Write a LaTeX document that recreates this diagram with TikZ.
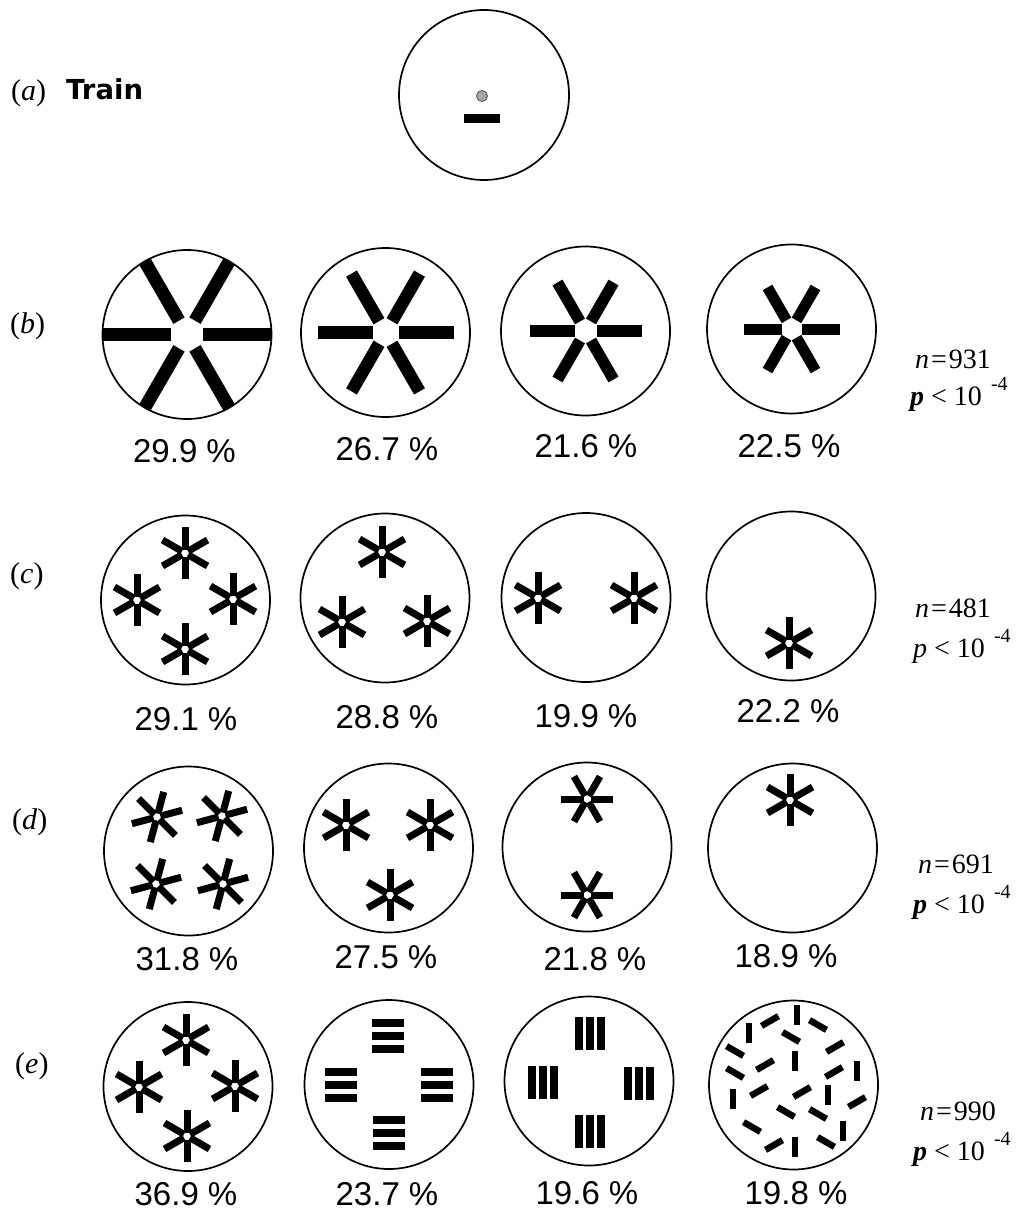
\documentclass[tikz,border=0pt]{standalone}
\usepackage{fontspec}
\setmainfont{Liberation Serif}
\newfontfamily\pctfont{Liberation Sans}
\newfontfamily\trainfont{DejaVu Sans}
\newcommand{\mystar}[6]{\foreach \ang in {0,60,...,300}{\draw[line width=#5pt,shift={(#1,-#2)},rotate=#6] (\ang:#3) -- (\ang:#4);}}
\newcommand{\sst}[3]{\mystar{#1}{#2}{3.5}{26}{7}{#3}}
\newcommand{\hbars}[2]{\foreach \d in {-13,0,13}{\draw[line width=8pt,shift={(#1,-#2)}] (-16,\d) -- (16,\d);}}
\newcommand{\vbars}[2]{\foreach \d in {-11,0,11}{\draw[line width=8pt,shift={(#1,-#2)}] (\d,-16.5) -- (\d,16.5);}}
\newcommand{\expfour}{\kern9pt\raisebox{15pt}{\fontsize{20}{20}\selectfont -4}}
\begin{document}
\begin{tikzpicture}[x=1pt,y=1pt,
  dish/.style={line width=1.7pt},
  pct/.style={font=\pctfont\fontsize{33}{36}\selectfont, anchor=base, inner sep=0pt},
  rowlab/.style={font=\fontsize{30}{32}\selectfont, anchor=base west, inner sep=0pt},
  stat/.style={font=\fontsize{28}{30}\selectfont, anchor=base west, inner sep=0pt}]
\fill[white] (0,0) rectangle (1025,-1212);
\useasboundingbox (0,0) rectangle (1025,-1212);
% (a)
\node[rowlab] (la) at (11,-101) {(\textit{a})};
\node[anchor=base west, inner sep=0pt, font=\trainfont\bfseries\fontsize{27.5}{30}\selectfont] (train) at (66,-100) {Train};
\coordinate (A) at (484,-95);
\draw[dish] (A) circle[radius=85];
\fill[gray!70, draw=black!70, line width=0.8pt] (482,-96) circle[radius=5.5];
\fill (464,-114) rectangle (500,-123);
% row labels
\node[rowlab] (lb) at (10,-333) {(\textit{b})};
\node[rowlab] (lc) at (10,-583) {(\textit{c})};
\node[rowlab] (ld) at (12,-829) {(\textit{d})};
\node[rowlab] (le) at (15,-1073) {(\textit{e})};
% row b
\coordinate (B1) at (187,-334.5);
\coordinate (B2) at (385.5,-332.5);
\coordinate (B3) at (585.5,-331);
\coordinate (B4) at (791.5,-329);
\foreach \c in {B1,B2,B3,B4} \draw[dish] (\c) circle[radius=84.5];
\mystar{187}{334.5}{16}{84}{13}{0}
\mystar{385.5}{332.5}{13}{68}{12.5}{0}
\mystar{585.5}{331}{11}{56}{11.5}{0}
\mystar{791.5}{329}{10}{48}{11}{0}
\node[pct] (pb1) at (184.5,-462) {29.9 \%};
\node[pct] (pb2) at (387,-460) {26.7 \%};
\node[pct] (pb3) at (586,-457) {21.6 \%};
\node[pct] (pb4) at (789,-457) {22.5 \%};
\node[stat] (nb) at (915,-368) {\textit{n}\kern2pt=\kern2pt931};
\node[stat] (sb) at (910,-405) {\textbf{\textit{p}} < 10\expfour};
% row c
\coordinate (C1) at (185.5,-600);
\coordinate (C2) at (385,-598);
\coordinate (C3) at (586,-597.5);
\coordinate (C4) at (791,-596);
\foreach \c in {C1,C2,C3,C4} \draw[dish] (\c) circle[radius=84.5];
\sst{185}{553}{30}\sst{137}{600}{30}\sst{233}{599}{30}\sst{185}{649}{30}
\sst{382}{552}{30}\sst{342}{622}{30}\sst{427}{621}{30}
\sst{538}{598}{30}\sst{634}{598}{30}
\sst{789}{643}{30}
\node[pct] (pc1) at (186,-730) {29.1 \%};
\node[pct] (pc2) at (387,-728) {28.8 \%};
\node[pct] (pc3) at (586,-727) {19.9 \%};
\node[pct] (pc4) at (788,-722) {22.2 \%};
\node[stat] (nc) at (915,-617) {\textit{n}\kern2pt=\kern2pt481};
\node[stat] (sc) at (913,-657) {\textit{p} < 10\expfour};
% row d
\coordinate (D1) at (188.5,-851);
\coordinate (D2) at (388.5,-848);
\coordinate (D3) at (587,-847);
\coordinate (D4) at (792.5,-848);
\foreach \c in {D1,D2,D3,D4} \draw[dish] (\c) circle[radius=84.5];
\sst{157}{817}{15}\sst{222}{816}{15}\sst{156}{884}{15}\sst{223}{884}{15}
\sst{346}{825}{30}\sst{430}{825}{30}\sst{390}{895}{30}
\sst{587}{799}{0}\sst{587}{895}{0}
\sst{790}{800}{30}
\node[pct] (pd1) at (187,-970) {31.8 \%};
\node[pct] (pd2) at (386,-968) {27.5 \%};
\node[pct] (pd3) at (595,-970) {21.8 \%};
\node[pct] (pd4) at (786,-967) {18.9 \%};
\node[stat] (nd) at (918,-873) {\textit{n}\kern2pt=\kern2pt691};
\node[stat] (sd) at (913,-913) {\textbf{\textit{p}} < 10\expfour};
% row e
\coordinate (E1) at (188,-1086.5);
\coordinate (E2) at (389,-1084.5);
\coordinate (E3) at (589,-1081);
\coordinate (E4) at (793.5,-1085);
\foreach \c in {E1,E2,E3,E4} \draw[dish] (\c) circle[radius=84.5];
\sst{186}{1040}{30}\sst{139}{1087}{30}\sst{235}{1086}{30}\sst{187}{1136}{30}
\hbars{388}{1036}\hbars{341}{1085}\hbars{437}{1085}\hbars{389}{1133}
\vbars{590}{1033}\vbars{543}{1082}\vbars{639}{1083}\vbars{590}{1131}
\foreach \x/\y/\a in {749/1033/90, 770/1021/30, 797/1015/90, 818/1025/-30, 791/1037/-30, 735/1051/-30, 835/1047/30, 795/1061/90, 765/1065/30, 735/1073/-30, 834/1072/30, 857/1071/90, 733/1099/90, 759/1091/30, 802/1092/30, 828/1095/90, 857/1102/30, 786/1112/-30, 818/1114/-30, 752/1127/-30, 843/1131/90, 774/1145/30, 795/1147/90, 826/1142/-30}
  \draw[line width=6.5pt,shift={(\x,-\y)},rotate=\a] (-9.75,0) -- (9.75,0);
\node[pct] (pe1) at (186,-1205) {36.9 \%};
\node[pct] (pe2) at (387,-1205) {23.7 \%};
\node[pct] (pe3) at (587,-1204) {19.6 \%};
\node[pct] (pe4) at (796,-1204) {19.8 \%};
\node[stat] (ne) at (920,-1120) {\textit{n}\kern2pt=\kern2pt990};
\node[stat] (se) at (913,-1160) {\textbf{\textit{p}} < 10\expfour};
\end{tikzpicture}
\end{document}
